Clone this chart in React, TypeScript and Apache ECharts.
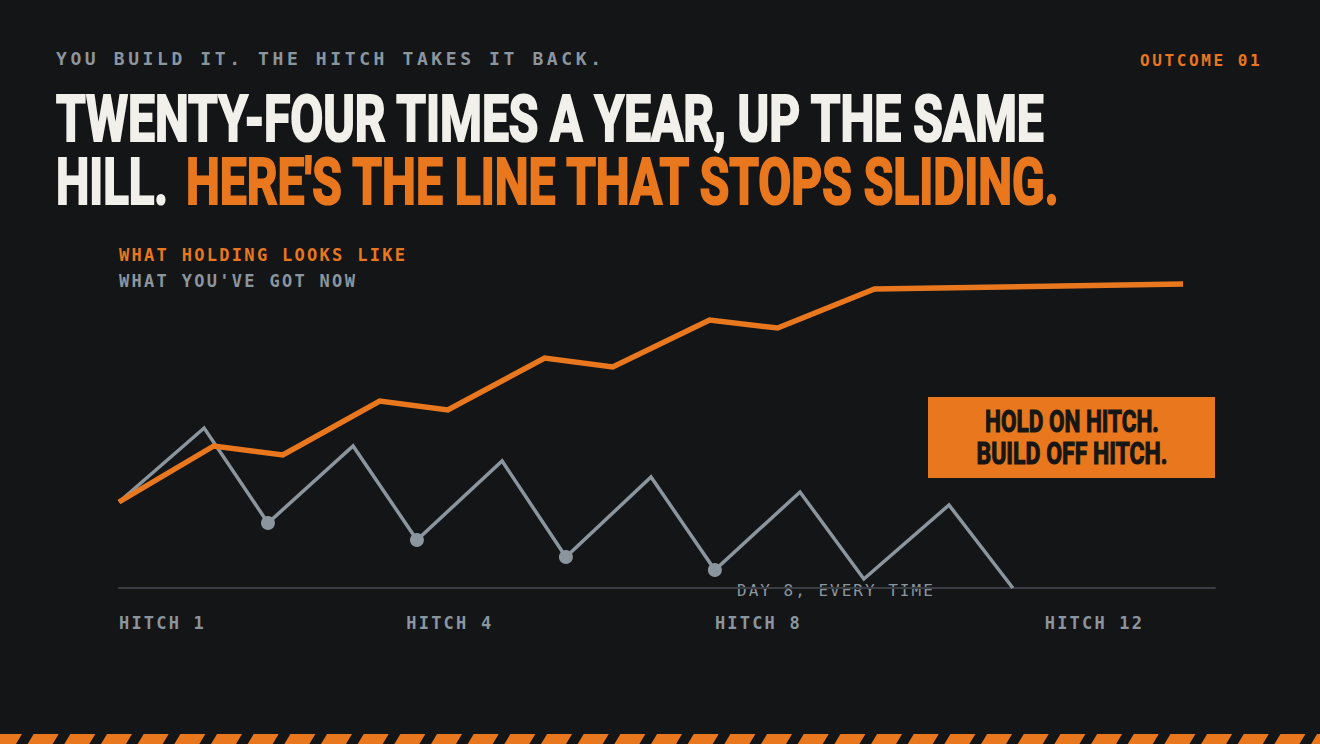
import React, { useEffect, useRef } from 'react'
import * as echarts from 'echarts'

// what you've got now: days into the cycle and how much of the work is still standing
const nowDays = [0, 8, 14, 22, 28, 36, 42, 50, 56, 64, 70, 78, 84]
const nowLevel = [21.5, 40, 16.25, 35.5, 12, 31.75, 7.75, 27.75, 4.5, 24, 2.25, 20.75, 0]
const dayEight = [false, false, true, false, true, false, true, false, true, false, false, false, false]

// what holding looks like
const holdDays = [0, 8.9, 15.4, 24.5, 30.9, 40, 46.4, 55.5, 61.9, 71, 100]
const holdLevel = [21.5, 35.5, 33.25, 46.75, 44.5, 57.5, 55.25, 67, 65, 74.75, 76]

const hitchTicks = [0, 27, 56, 87]
const hitchLabels = ['HITCH 1', 'HITCH 4', 'HITCH 8', 'HITCH 12']

const BG = '#141517'
const ORANGE = '#e8771e'
const GRAY = '#8b959e'
const WHITE = '#f2f0eb'
const HEAD = '"Liberation Sans Narrow", Roboto, sans-serif'
const MONO = '"DejaVu Sans Mono", monospace'

const KICKER = 'YOU BUILD IT. THE HITCH TAKES IT BACK.'
const TAG = 'OUTCOME 01'
const LINE_1 = 'TWENTY-FOUR TIMES A YEAR, UP THE SAME'
const LINE_2A = 'HILL.'
const LINE_2B = "HERE'S THE LINE THAT STOPS SLIDING."
const LEG_HOLD = 'WHAT HOLDING LOOKS LIKE'
const LEG_NOW = "WHAT YOU'VE GOT NOW"
const NOTE = 'DAY 8, EVERY TIME'
const BOX_1 = 'HOLD ON HITCH.'
const BOX_2 = 'BUILD OFF HITCH.'

// svg letter-spacing for the mono labels (zrender has no letterSpacing)
const spacing: Record<string, number> = {
  [KICKER]: 3.6,
  [TAG]: 2.6,
  [LEG_HOLD]: 2.3,
  [LEG_NOW]: 2.3,
  [NOTE]: 2.0,
  'HITCH 1': 2.2,
  'HITCH 4': 2.2,
  'HITCH 8': 2.2,
  'HITCH 12': 2.2
}

export default function App() {
  const chartRef: any = useRef()

  useEffect(() => {
    document.body.style.margin = '0'
    document.body.style.background = BG
    const myChart = echarts.init(chartRef.current, null, { renderer: 'svg' })

    const ctx: any = document.createElement('canvas').getContext('2d')
    const fit = (text: string, size: number, width: number) => {
      ctx.font = `bold ${size}px ${HEAD}`
      return width / ctx.measureText(text).width
    }
    // condensed headline: squeeze to the measured width, a stroke to make it heavier
    const head = (text: string, x: number, y: number, size: number, width: number, fill: string, weight: number, align = 'left') => ({
      type: 'text',
      x,
      y,
      scaleX: fit(text, size, width),
      style: {
        text,
        fill,
        stroke: fill,
        lineWidth: weight,
        fontFamily: HEAD,
        fontWeight: 'bold',
        fontSize: size,
        align,
        verticalAlign: 'middle'
      }
    })
    const mono = (text: string, x: number, y: number, size: number, fill: string, bold = true) => ({
      type: 'text',
      x,
      y,
      style: { text, fill, fontFamily: MONO, fontWeight: bold ? 'bold' : 'normal', fontSize: size, verticalAlign: 'middle' }
    })

    const stripes: any[] = []
    for (let i = 0; i < 38; i++) {
      const x = i * 36.67 - 9
      stripes.push({
        type: 'polygon',
        shape: { points: [[x, 744], [x + 6, 734], [x + 31, 734], [x + 25, 744]] },
        style: { fill: ORANGE }
      })
    }

    const option = {
      animation: false,
      backgroundColor: BG,
      grid: { left: 119, right: 105, top: 188, bottom: 156 },
      xAxis: {
        type: 'value',
        min: 0,
        max: 103,
        axisLine: { show: true, lineStyle: { color: '#3a3d42', width: 2 } },
        axisTick: { show: false },
        splitLine: { show: false },
        axisLabel: {
          customValues: hitchTicks,
          formatter: (v: number) => hitchLabels[hitchTicks.indexOf(v)],
          align: 'left',
          verticalAlign: 'middle',
          margin: 35,
          color: GRAY,
          fontFamily: MONO,
          fontWeight: 'bold',
          fontSize: 17
        }
      },
      yAxis: { type: 'value', min: 0, max: 100, show: false },
      series: [
        {
          type: 'line',
          clip: false,
          data: nowDays.map((d, i) => ({
            value: [d, nowLevel[i]],
            symbol: dayEight[i] ? 'circle' : 'none',
            symbolSize: 14
          })),
          lineStyle: { color: GRAY, width: 3.5, join: 'miter' },
          itemStyle: { color: GRAY },
          z: 2
        },
        {
          type: 'line',
          clip: false,
          symbol: 'none',
          data: holdDays.map((d, i) => [d, holdLevel[i]]),
          lineStyle: { color: ORANGE, width: 5.5, cap: 'butt', join: 'miter' },
          z: 3
        }
      ],
      graphic: [
        mono(KICKER, 56, 58, 18, GRAY),
        mono(TAG, 1140, 60, 16, ORANGE),
        head(LINE_1, 56, 119, 64, 990, WHITE, 2.2),
        head(LINE_2A, 56, 182, 64, 112, WHITE, 2.2),
        head(LINE_2B, 186, 182, 64, 877, ORANGE, 2.2),
        mono(LEG_HOLD, 119, 255, 17, ORANGE),
        mono(LEG_NOW, 119, 281, 17, GRAY),
        { type: 'rect', shape: { x: 928, y: 397, width: 287, height: 81 }, style: { fill: ORANGE } },
        head(BOX_1, 1072, 421, 32, 174, '#161616', 1.2, 'center'),
        head(BOX_2, 1072, 453, 32, 191, '#161616', 1.2, 'center'),
        mono(NOTE, 737, 590, 16, GRAY, false),
        ...stripes
      ]
    }
    myChart.setOption(option)

    const applySpacing = () => {
      chartRef.current?.querySelectorAll('text').forEach((t: any) => {
        const s = spacing[(t.textContent || '').trim()]
        if (s) t.setAttribute('letter-spacing', String(s))
      })
    }
    applySpacing()
    myChart.on('finished', applySpacing)

    return () => {
      myChart.dispose()
    }
  }, [])

  return <div ref={chartRef} style={{ width: 1320, height: 744 }} />
}
